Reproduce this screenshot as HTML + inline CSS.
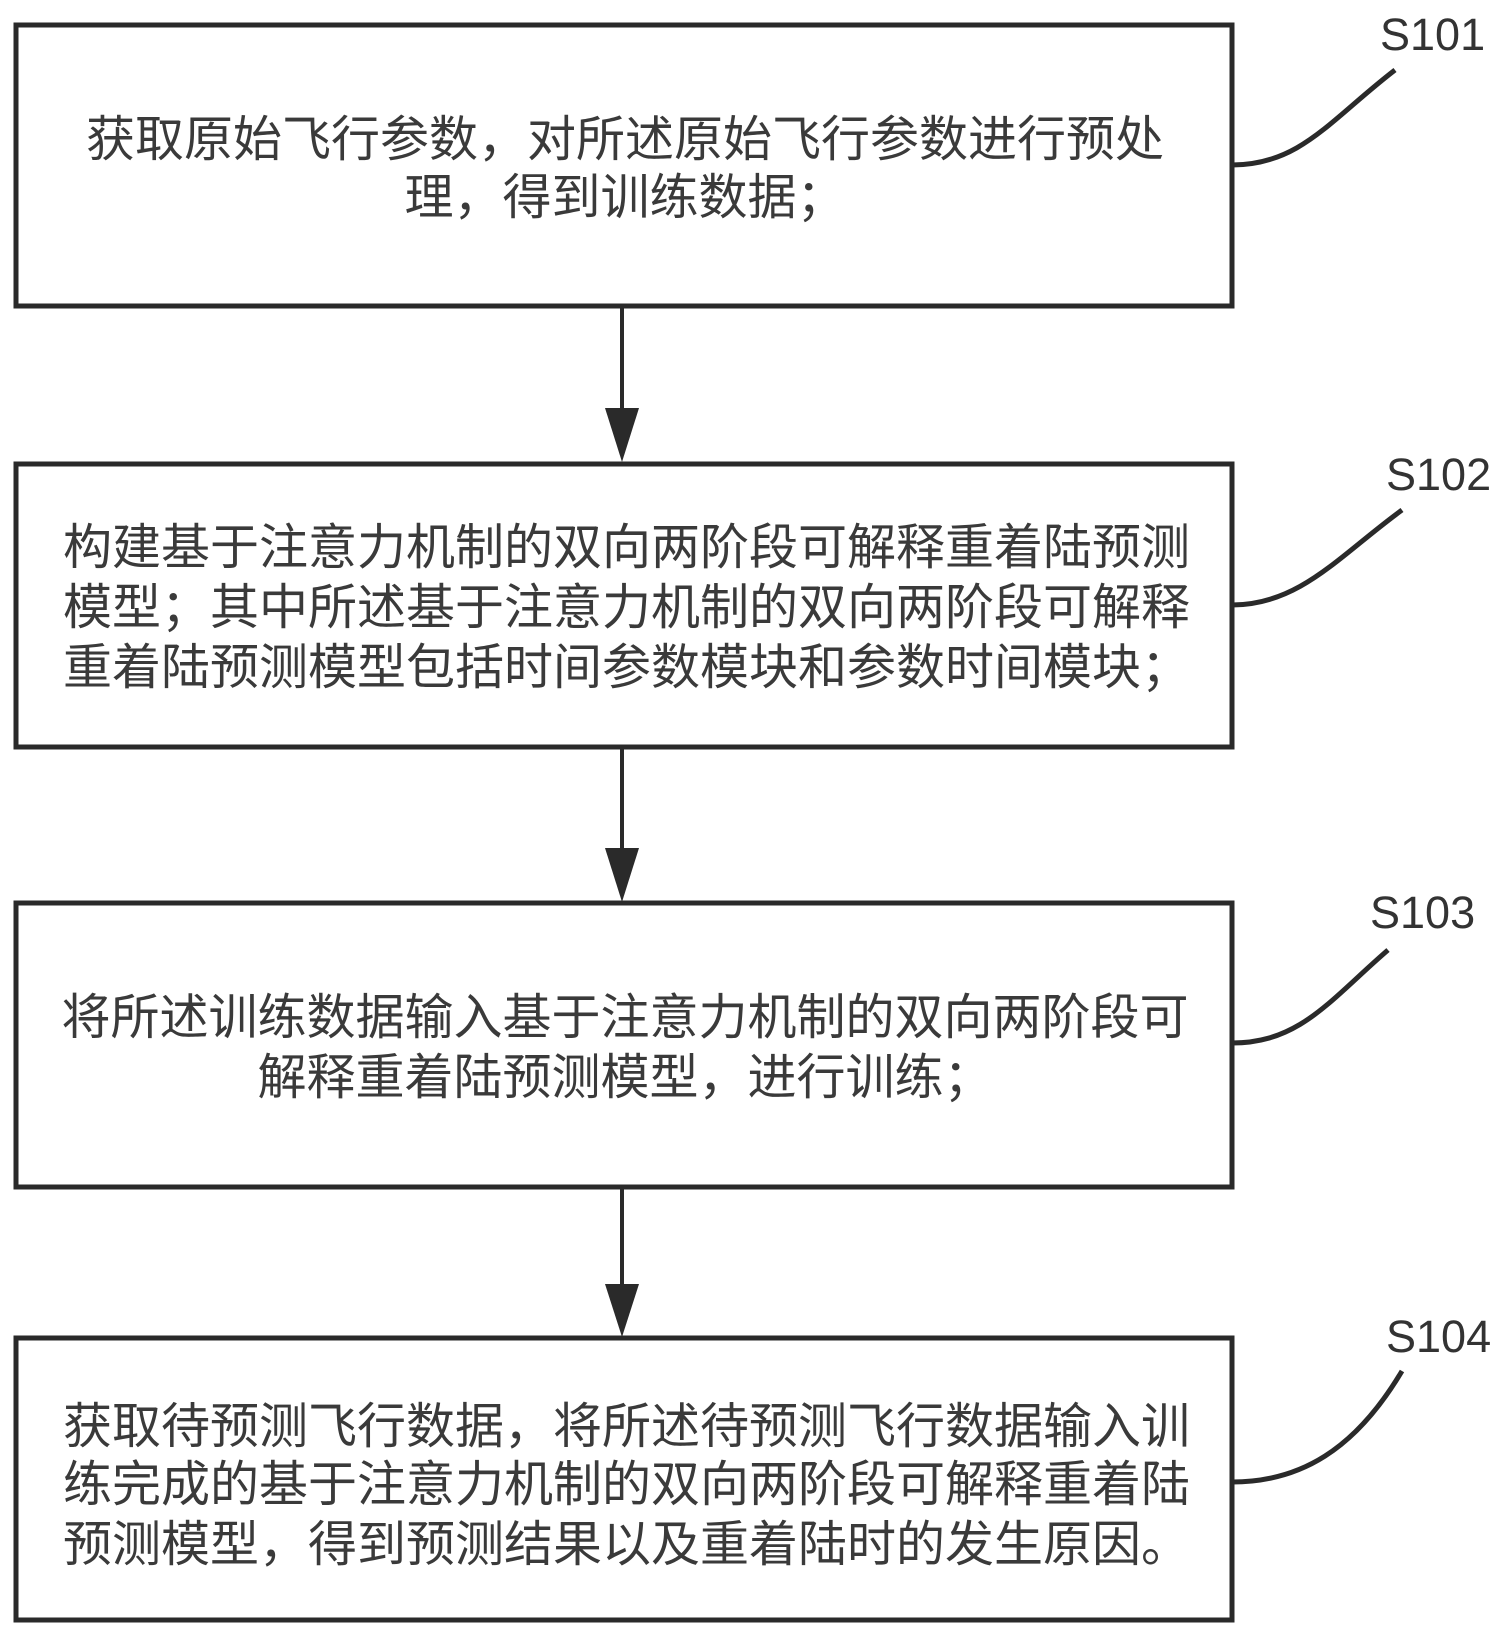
<!DOCTYPE html>
<html><head><meta charset="utf-8"><style>
html,body{margin:0;padding:0;background:#fff;}
svg{display:block;}
text{font-family:"Liberation Sans","Noto Sans CJK SC",sans-serif;fill:#3a3a3a;}
.t{font-size:49px;text-anchor:middle;}
.s{font-size:49px;}
.l{font-size:45px;fill:#333;}
</style></head><body>
<svg width="1510" height="1636" viewBox="0 0 1510 1636" xmlns="http://www.w3.org/2000/svg">
<g fill="none" stroke="#2a2a2a" stroke-width="5">
<rect x="16" y="25" width="1216" height="281"/>
<rect x="16" y="464" width="1216" height="283"/>
<rect x="16" y="903" width="1216" height="284"/>
<rect x="16" y="1338" width="1216" height="282"/>
<path d="M1232 165 C1300 165 1330 120 1395 70"/>
<path d="M1232 605 C1300 605 1340 555 1402 510"/>
<path d="M1232 1043 C1300 1043 1330 1000 1388 950"/>
<path d="M1232 1482 C1300 1482 1355 1450 1402 1371"/>
<g stroke-width="4">
<line x1="622" y1="306" x2="622" y2="420"/>
<line x1="622" y1="747" x2="622" y2="860"/>
<line x1="622" y1="1187" x2="622" y2="1296"/>
</g>
</g>
<g fill="#2a2a2a">
<polygon points="605,408 639,408 622,462"/>
<polygon points="605,848 639,848 622,902"/>
<polygon points="605,1284 639,1284 622,1337"/>
</g>
<text class="l" x="1380" y="50">S101</text>
<text class="l" x="1386" y="490">S102</text>
<text class="l" x="1370" y="928">S103</text>
<text class="l" x="1386" y="1352">S104</text>
<text class="t" x="625" y="156">获取原始飞行参数，对所述原始飞行参数进行预处</text>
<text class="t" x="625" y="214">理，得到训练数据；</text>
<text class="s" x="63" y="564">构建基于注意力机制的双向两阶段可解释重着陆预测</text>
<text class="s" x="63" y="624">模型；其中所述基于注意力机制的双向两阶段可解释</text>
<text class="s" x="63" y="684">重着陆预测模型包括时间参数模块和参数时间模块；</text>
<text class="t" x="625" y="1034">将所述训练数据输入基于注意力机制的双向两阶段可</text>
<text class="t" x="625" y="1094">解释重着陆预测模型，进行训练；</text>
<text class="s" x="63" y="1443">获取待预测飞行数据，将所述待预测飞行数据输入训</text>
<text class="s" x="63" y="1501">练完成的基于注意力机制的双向两阶段可解释重着陆</text>
<text class="s" x="63" y="1561">预测模型，得到预测结果以及重着陆时的发生原因。</text>
</svg>
</body></html>
